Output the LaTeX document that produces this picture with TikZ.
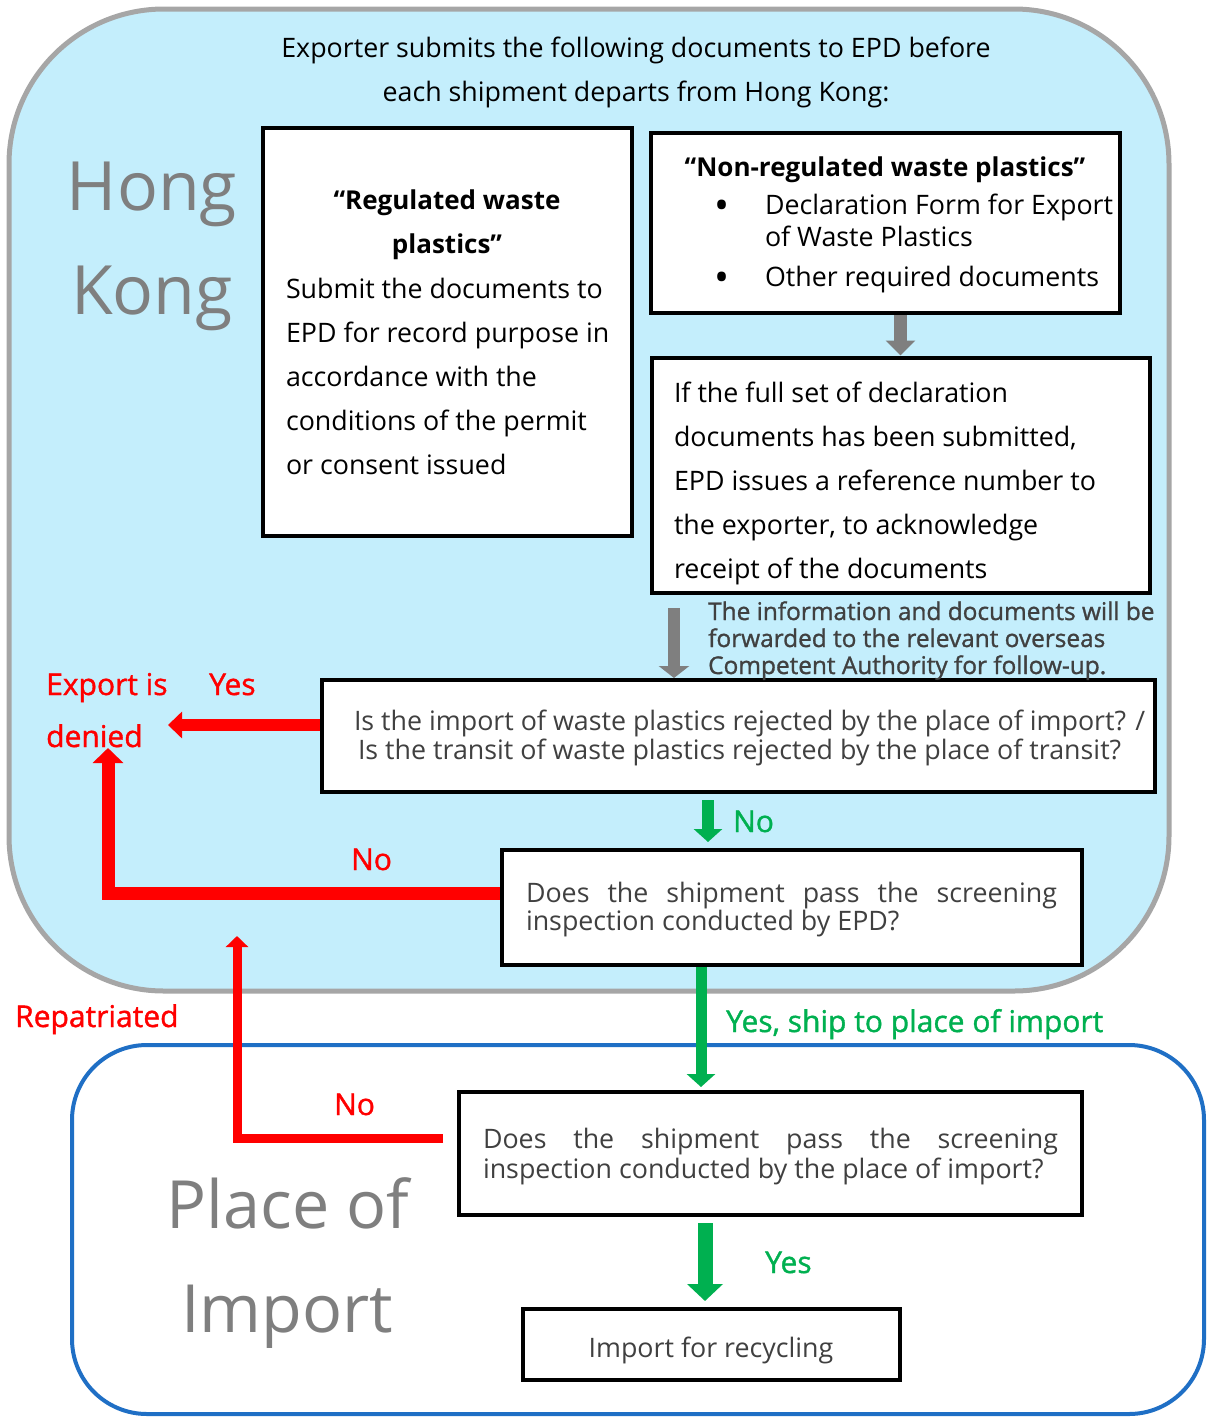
\documentclass[tikz,border=0pt]{standalone}
\usepackage{fontspec}
\setmainfont{Open Sans}
\newfontfamily\semib[FakeBold=1.2]{Open Sans}
\usetikzlibrary{arrows.meta}
\definecolor{hkfill}{HTML}{C4EEFC}
\definecolor{hkline}{HTML}{A6A6A6}
\definecolor{poiline}{HTML}{1F6FC5}
\definecolor{txtgray}{HTML}{404040}
\definecolor{biggray}{HTML}{7F7F7F}
\definecolor{arrgray}{HTML}{7F7F7F}
\definecolor{myred}{HTML}{FF0000}
\definecolor{mygreen}{HTML}{00B050}
\newcommand\tblock[3]{\vtop{\hsize=#1pt\baselineskip=#2pt\lineskiplimit=-1000pt\parindent=0pt\parskip=0pt\raggedright #3\par}}
\begin{document}
\begin{tikzpicture}[x=1pt,y={(0pt,-1pt)},
  box/.style={draw=black, line width=4pt, fill=white, inner sep=0pt},
  txt/.style={inner sep=0pt, outer sep=0pt, font=\fontsize{26.8}{44}\selectfont},
  btxt/.style={txt, font=\fontsize{26}{44}\selectfont\bfseries},
  gtxt/.style={txt, text=txtgray, font=\fontsize{26.8}{30}\selectfont},
  bigtxt/.style={inner sep=0pt, text=biggray, font=\fontsize{68}{80}\selectfont},
  bigtxtb/.style={inner sep=0pt, text=biggray, font=\fontsize{66.5}{80}\selectfont},
  redlbl/.style={inner sep=0pt, text=myred, font=\fontsize{30}{34}\semib},
  grnlbl/.style={inner sep=0pt, text=mygreen, font=\fontsize{30}{34}\semib},
  bul/.style={inner sep=0pt, font=\fontsize{40}{40}\selectfont},
  grayarr/.style={draw=arrgray, line width=#1},
  redarr/.style={draw=myred, line width=#1, line join=miter},
  grnarr/.style={draw=mygreen, line width=#1},
]
\useasboundingbox (0,0) rectangle (1207,1417);
% regions
\draw[fill=hkfill, draw=hkline, line width=5pt, rounded corners=155pt] (9,9) rectangle (1169,991);
\draw[fill=white, draw=poiline, line width=4pt, rounded corners=75pt] (72,1045) rectangle (1204,1414);

% big region labels
\node[bigtxt, anchor=base] (hong) at (152,210) {Hong};
\node[bigtxt, anchor=base] (kong) at (152,314) {Kong};
\node[bigtxtb, anchor=base] (place) at (288,1228) {Place of};
\node[bigtxtb, anchor=base] (import) at (287,1332) {Import};

% title
\node[txt, anchor=base] (title1) at (636,57) {Exporter submits the following documents to EPD before};
\node[txt, anchor=base] (title2) at (636,101) {each shipment departs from Hong Kong:};

% boxes
\node[box, minimum width=369, minimum height=408] (A) at (447.5,332) {};
\node[box, minimum width=469, minimum height=180] (B) at (885.5,223) {};
\node[box, minimum width=498, minimum height=235] (C) at (900.5,475) {};
\node[box, minimum width=833, minimum height=112] (D) at (738.5,736) {};
\node[box, minimum width=580, minimum height=115] (E) at (792,907.5) {};
\node[box, minimum width=623, minimum height=123] (F) at (770.5,1153.5) {};
\node[box, minimum width=377, minimum height=71] (G) at (711.5,1344.5) {};

% box A text
\node[btxt, anchor=base] (Ah1) at (447,209) {“Regulated waste};
\node[btxt, anchor=base] (Ah2) at (447,253) {plastics”};
\node[txt, anchor=base west] (Ab) at (286,298) {\tblock{340}{44}{Submit the documents to\\EPD for record purpose in\\accordance with the\\conditions of the permit\\or consent issued}};

% box B text
\node[btxt, anchor=base] (Bh) at (885,176) {“Non-regulated waste plastics”};
\node[bul, anchor=base] (bul1) at (722,219) {\textbullet};
\node[txt, anchor=base west] (Bi1) at (765,214) {\tblock{350}{32}{Declaration Form for Export\\of Waste Plastics}};
\node[bul, anchor=base] (bul2) at (722,291) {\textbullet};
\node[txt, anchor=base west] (Bi2) at (765,286) {Other required documents};

% box C text
\node[txt, anchor=base west] (Ct) at (674,402) {\tblock{470}{44}{If the full set of declaration\\documents has been submitted,\\EPD issues a reference number to\\the exporter, to acknowledge\\receipt of the documents}};

% info text
\node[inner sep=0pt, anchor=base west, text=txtgray, font=\fontsize{24.4}{27}\semib] (info) at (708,620) {\tblock{470}{27}{The information and documents will be\\forwarded to the relevant overseas\\Competent Authority for follow-up.}};

% box D text
\node[gtxt, anchor=base west] (D1) at (354,730) {Is the import of waste plastics rejected by the place of import? /};
\node[gtxt, anchor=base west] (D2) at (358,759) {Is the transit of waste plastics rejected by the place of transit?};

% box E text
\node[gtxt, anchor=base west] (E1) at (526,902) {\makebox[531pt][s]{Does the shipment pass the screening}};
\node[gtxt, anchor=base west] (E2) at (526,930) {inspection conducted by EPD?};

% box F text
\node[gtxt, anchor=base west] (F1) at (483,1148) {\makebox[575pt][s]{Does the shipment pass the screening}};
\node[gtxt, anchor=base west] (F2) at (483,1178) {inspection conducted by the place of import?};

% box G text
\node[gtxt, anchor=base] (Gt) at (711,1357) {Import for recycling};

% labels
\node[redlbl, anchor=base west] (exp1) at (46,695) {Export is};
\node[redlbl, anchor=base west] (exp2) at (46,747) {denied};
\node[redlbl, anchor=base west] (yesR) at (209,695) {Yes};
\node[redlbl, anchor=base west] (noR1) at (351,870) {No};
\node[redlbl, anchor=base west] (rep) at (15,1027) {Repatriated};
\node[redlbl, anchor=base west] (noR2) at (334,1115) {No};
\node[grnlbl, anchor=base west] (noG) at (733,832) {No};
\node[grnlbl, anchor=base west] (yesShip) at (726,1032) {Yes, ship to place of import};
\node[grnlbl, anchor=base west] (yesG) at (765,1273) {Yes};

% coordinates
\coordinate (deny1) at (168,725);
\coordinate (deny2) at (108,748);
\coordinate (elbow1) at (108,893);
\coordinate (elbow2) at (237,1138);
\coordinate (repTip) at (237,936);
\coordinate (infoStart) at (674,608);
\coordinate (gx1) at (708,0);
\coordinate (gx2) at (701,0);
\coordinate (gx3) at (705,0);
\coordinate (fstart) at ([xshift=-14pt]F.west);

% gray arrows
\draw[grayarr=13pt, -{Triangle[width=29pt,length=15pt]}] (C.north |- B.south) -- (C.north);
\draw[grayarr=12pt, -{Triangle[width=30pt,length=12pt]}] (infoStart) -- (infoStart |- D.north);

% red arrows
\draw[redarr=12pt, -{Triangle[width=26pt,length=14pt]}] (D.west |- deny1) -- (deny1);
\draw[redarr=13pt, -{Triangle[width=30pt,length=15pt]}] (E.west |- elbow1) -- (elbow1) -- (deny2);
\draw[redarr=9pt, -{Triangle[width=22pt,length=11pt]}] (fstart |- elbow2) -- (elbow2) -- (repTip);

% green arrows
\draw[grnarr=12pt, -{Triangle[width=28pt,length=13pt]}, shorten <=6pt, shorten >=6pt] (D.south -| gx1) -- (E.north -| gx1);
\draw[grnarr=11pt, -{Triangle[width=28pt,length=13pt]}, shorten >=3pt] (E.south -| gx2) -- (F.north -| gx2);
\draw[grnarr=15pt, -{Triangle[width=35pt,length=17pt]}, shorten <=6pt, shorten >=6pt] (F.south -| gx3) -- (G.north -| gx3);
\end{tikzpicture}
\end{document}
